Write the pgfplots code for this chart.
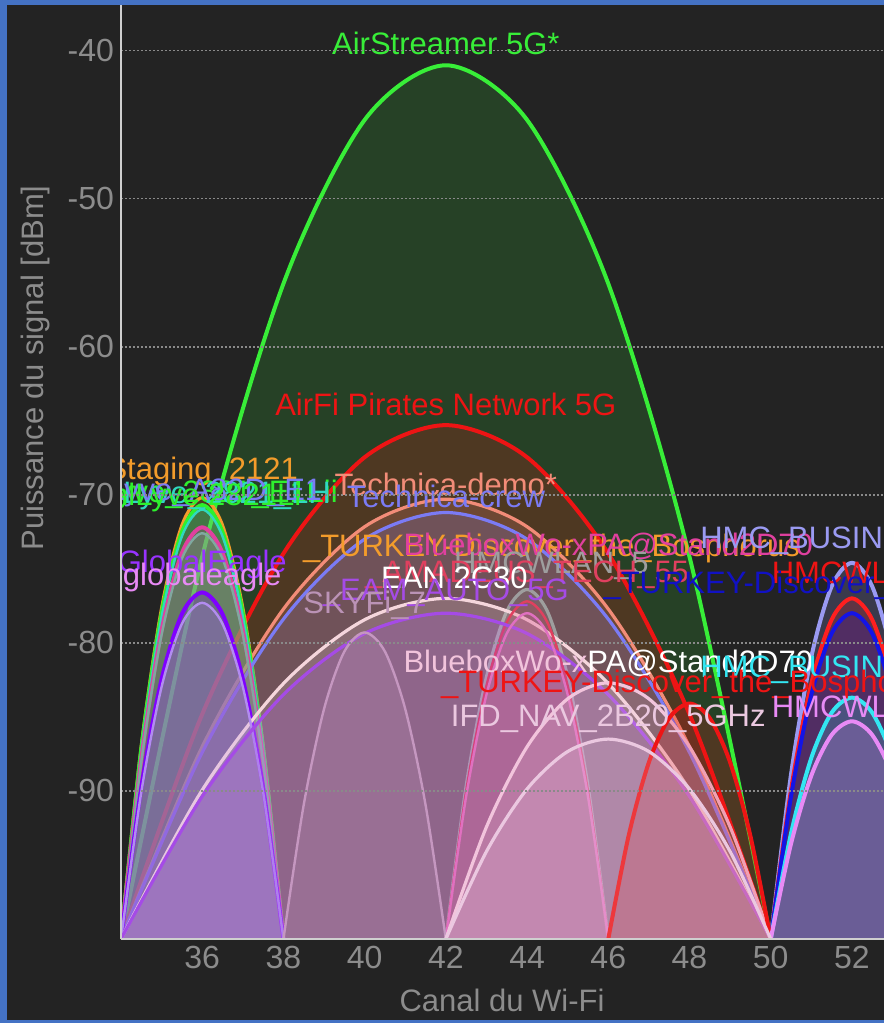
\documentclass[border=0pt]{standalone}
\usepackage{pgfplots}
\pgfplotsset{compat=1.18}
\usepackage{fontspec}
\setmainfont{Liberation Sans}
\definecolor{frameblue}{HTML}{4472C4}
\definecolor{bgdark}{HTML}{232323}
\definecolor{tickgray}{HTML}{8C8C8C}
\definecolor{gridgray}{HTML}{8A8A8A}
\definecolor{axisgray}{HTML}{CFCFCF}
\definecolor{cGreen}{HTML}{38EE38}
\definecolor{cRed}{HTML}{EE1414}
\definecolor{cSalmon}{HTML}{F28C78}
\definecolor{cOrange}{HTML}{F39C2B}
\definecolor{cGreenB}{HTML}{2EF02E}
\definecolor{cTeal}{HTML}{30D8C0}
\definecolor{cPeri}{HTML}{7B7BF5}
\definecolor{cMagenta}{HTML}{E0409F}
\definecolor{cTealGray}{HTML}{80A8A0}
\definecolor{cLPurple}{HTML}{9A9AF2}
\definecolor{cGray}{HTML}{9E9E9E}
\definecolor{cViolet}{HTML}{7F00FF}
\definecolor{cWhitePink}{HTML}{F5D6DC}
\definecolor{cRedB}{HTML}{FF1F1F}
\definecolor{cRedPink}{HTML}{E0405F}
\definecolor{cLViolet}{HTML}{B28CF0}
\definecolor{cPurple}{HTML}{A54BE6}
\definecolor{cPink}{HTML}{E070C0}
\definecolor{cBlue}{HTML}{1414E6}
\definecolor{cMauve}{HTML}{C597C0}
\definecolor{cLPink}{HTML}{F2C4DC}
\definecolor{cCyan}{HTML}{33E6F2}
\definecolor{cPinkViolet}{HTML}{E88AF5}
\definecolor{cLPinkB}{HTML}{EBC8E0}
\tikzset{
  lbl/.style={font=\fontsize{15.5bp}{18bp}\selectfont, inner sep=0pt, anchor=center},
}
\pgfplotsset{
  net/.style={draw=#1, fill=#1, fill opacity=0.2, line width=2bp, smooth, tension=0.5},
  thin/.style={line width=1.2bp},
}
\begin{document}
\begin{tikzpicture}
\fill[frameblue] (-60.5bp,-42bp) rectangle (381.5bp,469.5bp);
\fill[bgdark] (-57bp,-40.5bp) rectangle (381.5bp,467bp);
\begin{axis}[
  at={(0bp,0bp)}, anchor=south west,
  scale only axis, width=381.5bp, height=467bp,
  xmin=34, xmax=52.79, ymin=-100, ymax=-36.93,
  axis x line*=bottom, axis y line*=left,
  axis line style={draw=axisgray, line width=1bp, -},
  xtick={36,38,...,52}, ytick={-90,-80,...,-40},
  major tick length=0pt,
  ymajorgrids,
  major grid style={draw=gridgray, line width=0.9bp, dash pattern=on 0.9bp off 1.1bp},
  ticklabel style={font=\fontsize{16bp}{19bp}\selectfont, text=tickgray},
  /pgf/number format/assume math mode=true,
  axis on top,
  clip=true,
]
% 1 AirStreamer 5G*
\addplot[net=cGreen, fill opacity=0.15] coordinates {(34,-100)(36,-74.19)(38,-55.75)(40,-44.69)(42,-41)(44,-44.69)(46,-55.75)(48,-74.19)(50,-100)};
% 2 AirFi
\addplot[net=cRed] coordinates {(34,-100)(36,-84.82)(38,-73.97)(40,-67.47)(42,-65.3)(44,-67.47)(46,-73.97)(48,-84.82)(50,-100)};
% 3 Technica-demo
\addplot[net=cSalmon, line width=1.6bp] coordinates {(34,-100)(36,-87.01)(38,-77.72)(40,-72.16)(42,-70.3)(44,-72.16)(46,-77.72)(48,-87.01)(50,-100)};
% 4 ch36 orange
\addplot[net=cOrange, line width=1.6bp] coordinates {(34,-100)(34.5,-86.96)(35,-77.65)(35.5,-72.06)(36,-70.2)(36.5,-72.06)(37,-77.65)(37.5,-86.96)(38,-100)};
% 5 ch36 green
\addplot[net=cGreenB] coordinates {(34,-100)(34.5,-87.18)(35,-78.02)(35.5,-72.53)(36,-70.7)(36.5,-72.53)(37,-78.02)(37.5,-87.18)(38,-100)};
% 6 ch36 teal
\addplot[net=cTeal, thin] coordinates {(34,-100)(34.5,-87.31)(35,-78.25)(35.5,-72.81)(36,-71)(36.5,-72.81)(37,-78.25)(37.5,-87.31)(38,-100)};
% 7 Technica-crew
\addplot[net=cPeri, line width=1.6bp] coordinates {(34,-100)(36,-87.4)(38,-78.4)(40,-73)(42,-71.2)(44,-73)(46,-78.4)(48,-87.4)(50,-100)};
% 8 ch36 magenta
\addplot[net=cMagenta] coordinates {(34,-100)(34.5,-87.84)(35,-79.15)(35.5,-73.94)(36,-72.2)(36.5,-73.94)(37,-79.15)(37.5,-87.84)(38,-100)};
% 9 ch36 teal gray
\addplot[net=cTealGray, thin] coordinates {(34,-100)(34.5,-88.01)(35,-79.45)(35.5,-74.31)(36,-72.6)(36.5,-74.31)(37,-79.45)(37.5,-88.01)(38,-100)};
% 10 ch52 light purple
\addplot[net=cLPurple] coordinates {(50,-100)(50.5,-88.89)(51,-80.95)(51.5,-76.19)(52,-74.6)(52.5,-76.19)(53,-80.95)(53.5,-88.89)(54,-100)};
% 11 ch44 gray
\addplot[net=cGray, line width=1.6bp] coordinates {(42,-100)(42.5,-89.67)(43,-82.3)(43.5,-77.87)(44,-76.4)(44.5,-77.87)(45,-82.3)(45.5,-89.67)(46,-100)};
% 12 ch36 violet
\addplot[net=cViolet] coordinates {(34,-100)(34.5,-89.76)(35,-82.45)(35.5,-78.06)(36,-76.6)(36.5,-78.06)(37,-82.45)(37.5,-89.76)(38,-100)};
% 13 EAN 2C30
\addplot[net=cWhitePink, line width=1.6bp] coordinates {(34,-100)(36,-89.94)(38,-82.75)(40,-78.44)(42,-77)(44,-78.44)(46,-82.75)(48,-89.94)(50,-100)};
% 14 ch52 red
\addplot[net=cRedB] coordinates {(50,-100)(50.5,-89.94)(51,-82.75)(51.5,-78.44)(52,-77)(52.5,-78.44)(53,-82.75)(53.5,-89.94)(54,-100)};
% 15 ch44 red-pink
\addplot[net=cRedPink, thin] coordinates {(42,-100)(42.5,-90.02)(43,-82.9)(43.5,-78.62)(44,-77.2)(44.5,-78.62)(45,-82.9)(45.5,-90.02)(46,-100)};
% 16 ch36 light violet
\addplot[net=cLViolet, thin] coordinates {(34,-100)(34.5,-90.07)(35,-82.97)(35.5,-78.72)(36,-77.3)(36.5,-78.72)(37,-82.97)(37.5,-90.07)(38,-100)};
% 17 EAM purple
\addplot[net=cPurple, line width=1.6bp] coordinates {(34,-100)(36,-90.37)(38,-83.5)(40,-79.37)(42,-78)(44,-79.37)(46,-83.5)(48,-90.37)(50,-100)};
% 18 ch44 pink
\addplot[net=cPink, thin] coordinates {(42,-100)(42.5,-90.37)(43,-83.5)(43.5,-79.37)(44,-78)(44.5,-79.37)(45,-83.5)(45.5,-90.37)(46,-100)};
% 19 ch52 blue
\addplot[net=cBlue] coordinates {(50,-100)(50.5,-90.37)(51,-83.5)(51.5,-79.37)(52,-78)(52.5,-79.37)(53,-83.5)(53.5,-90.37)(54,-100)};
% 20 SKYFi_7
\addplot[net=cMauve, thin] coordinates {(38,-100)(38.5,-90.94)(39,-84.47)(39.5,-80.59)(40,-79.3)(40.5,-80.59)(41,-84.47)(41.5,-90.94)(42,-100)};
% 21 Bluebox
\addplot[net=cLPink, line width=1.6bp] coordinates {(42,-100)(43,-92.43)(44,-87.02)(45,-83.78)(46,-82.7)(47,-83.78)(48,-87.02)(49,-92.43)(50,-100)};
% 22 ch52 cyan
\addplot[net=cCyan] coordinates {(50,-100)(50.5,-92.87)(51,-87.77)(51.5,-84.72)(52,-83.7)(52.5,-84.72)(53,-87.77)(53.5,-92.87)(54,-100)};
% 23 ch48 red
\addplot[net=cRed] coordinates {(46,-100)(46.5,-93.04)(47,-88.07)(47.5,-85.09)(48,-84.1)(48.5,-85.09)(49,-88.07)(49.5,-93.04)(50,-100)};
% 24 ch52 pink violet
\addplot[net=cPinkViolet] coordinates {(50,-100)(50.5,-93.57)(51,-88.97)(51.5,-86.22)(52,-85.3)(52.5,-86.22)(53,-88.97)(53.5,-93.57)(54,-100)};
% 25 IFD_NAV
\addplot[net=cLPinkB, line width=1.6bp] coordinates {(42,-100)(43,-94.09)(44,-89.87)(45,-87.34)(46,-86.5)(47,-87.34)(48,-89.87)(49,-94.09)(50,-100)};

% labels
\node[lbl, text=cGreen] at (42,-39.5) {AirStreamer 5G*};
\node[lbl, text=cRed] at (42,-63.9) {AirFi Pirates Network 5G};
\node[lbl, text=cOrange] at (36,-68.4) {Staging\_2121};
\node[lbl, text=cSalmon] at (42,-69.3) {Technica-demo*};
\node[lbl, text=cPeri] at (42,-70.1) {Technica-crew};
\node[lbl, text=cGreenB] at (36,-70.0) {onLyve\_2821\_E1Lii};
\node[lbl, text=cTeal] at (36,-70.1) {TP-Lyve\_2821\_LH};
\node[lbl, text=cPeri] at (36,-69.9) {mLyve\_A82D\_E1};
\node[lbl, text=cGreenB] at (36.1,-70.2) {nlLyve 2821Li};
\node[lbl, text=cViolet!80!white] at (36,-74.7) {GlobalEagle};
\node[lbl, text=cPinkViolet] at (36,-75.6) {globaleagle};
\node[lbl, text=cOrange] at (44.6,-73.6) {\_TURKEY-Discover\_the\_Bosphorus};
\node[lbl, text=cMagenta] at (46,-73.5) {BlueboxWo-xPA@Stand2D70};
\node[lbl, text=cLPurple] at (52,-73.1) {HMC\_BUSINESS\_5G};
\node[lbl, text=cGray] at (44.6,-74.8) {HMCWLAN\_5};
\node[lbl, text=cRedPink] at (44,-75.4) {\_AMADEUS\_TECH\_55};
\node[lbl, text=cRed] at (52,-75.3) {HMCWLAN};
\node[lbl, text=white] at (42,-75.8) {\_EAN 2C30};
\node[lbl, text=cBlue!85!black] at (52,-76.1) {\_TURKEY-Discover\_the\_Bosphorus};
\node[lbl, text=cPurple] at (42,-76.6) {\_EAM\_AUTO\_5G};
\node[lbl, text=cMauve!85!gray] at (40,-77.5) {SKYFi\_7};
\node[lbl] at (46,-81.4) {\textcolor{cLPink}{BlueboxWo-x}\textcolor{white}{PA@Stand2D70}};
\node[lbl, text=cCyan] at (52,-81.8) {HMC\_BUSINESS\_5G};
\node[lbl, text=cRed] at (48,-82.8) {\_TURKEY-Discover\_the\_Bosphorus};
\node[lbl, text=cPinkViolet] at (52,-84.3) {HMCWLAN};
\node[lbl, text=cLPinkB] at (46,-85.1) {IFD\_NAV\_2B20\_5GHz};
\end{axis}
\node[rotate=90, text=tickgray, font=\fontsize{15.5bp}{18bp}\selectfont, inner sep=0pt] at (-43bp,285.5bp) {Puissance du signal [dBm]};
\node[text=tickgray, font=\fontsize{15.5bp}{18bp}\selectfont, inner sep=0pt] at (190.5bp,-30.5bp) {Canal du Wi-Fi};
\pgfresetboundingbox
\path[use as bounding box] (-60.5bp,-42bp) rectangle (381.5bp,469.5bp);
\end{tikzpicture}
\end{document}
